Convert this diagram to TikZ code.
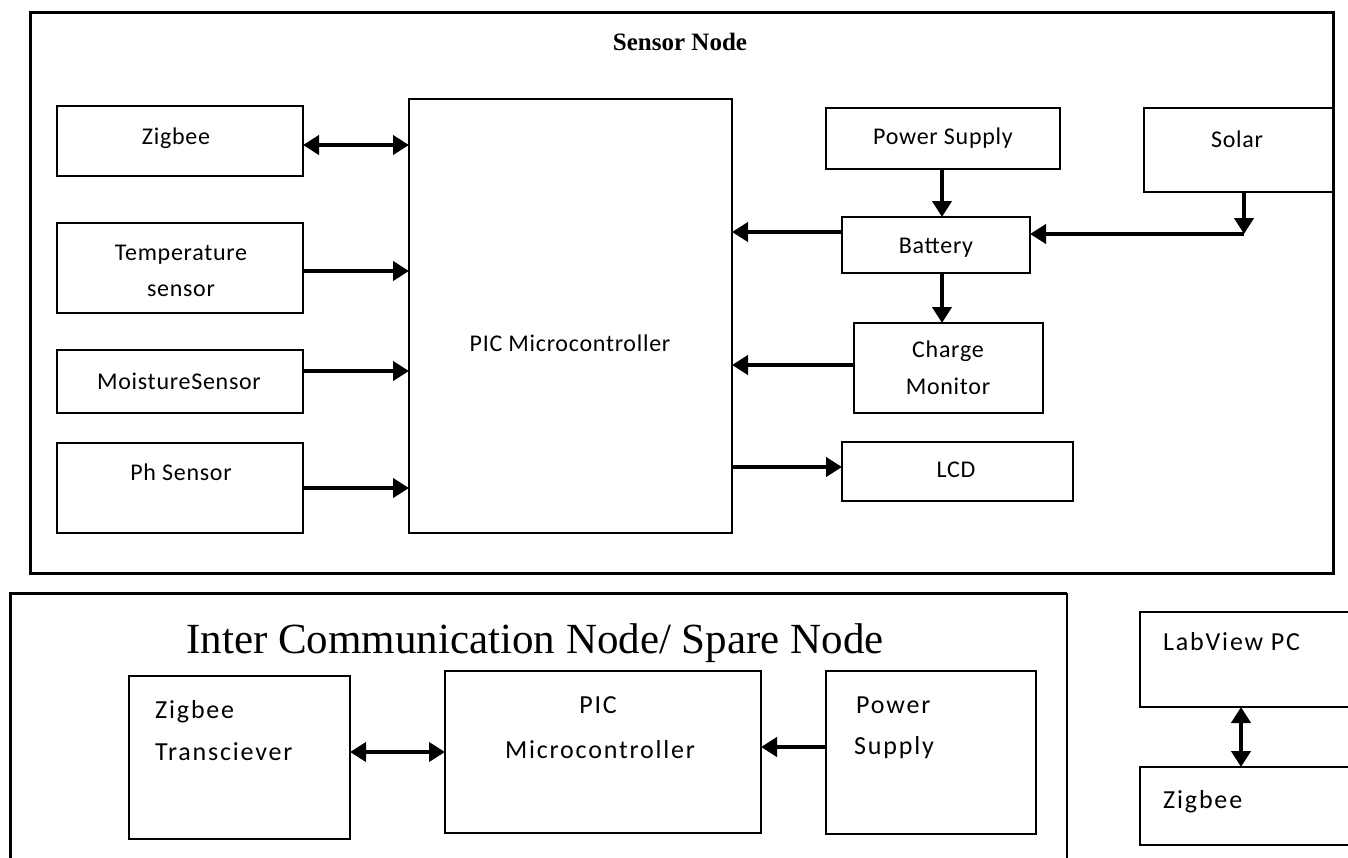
\documentclass[tikz,border=0pt]{standalone}
\usepackage{fontspec}
\newfontfamily\calfont[LetterSpace=3]{Carlito}
\newfontfamily\calwide[LetterSpace=7]{Carlito}
\newfontfamily\serfont{Liberation Serif}
\usetikzlibrary{arrows.meta}
\tikzset{
  box/.style={draw=black, line width=2pt, inner sep=0pt, outer sep=0pt},
  framebox/.style={draw=black, line width=3pt, inner sep=0pt, outer sep=0pt},
  lbl/.style={font=\calfont\fontsize{24}{28}\selectfont, inner sep=0pt, anchor=base},
  lbll/.style={font=\calwide\fontsize{26}{30}\selectfont, inner sep=0pt, anchor=base west},
  lblc/.style={font=\calwide\fontsize{26}{30}\selectfont, inner sep=0pt, anchor=base},
  arr/.style={line width=4pt, -{Triangle[length=16pt,width=19pt]}},
  dbl/.style={line width=4pt, {Triangle[length=16pt,width=19pt]}-{Triangle[length=16pt,width=19pt]}},
}
\begin{document}
\begin{tikzpicture}[x=1pt,y=-1pt]
\useasboundingbox[fill=white] (0,0) rectangle (1348,857);

% ---------------- Sensor Node ----------------
\node[framebox, minimum width=1303pt, minimum height=561pt] (sn) at (681.5,292.5) {};
\node[font=\serfont\bfseries\fontsize{25}{28}\selectfont, inner sep=0pt, anchor=base] (snt) at (680,50) {Sensor Node};

\node[box, minimum width=246pt, minimum height=70pt] (zig) at (180,141) {};
\node[lbl] (zigt) at (176,144) {Zigbee};

\node[box, minimum width=246pt, minimum height=90pt] (temp) at (180,268) {};
\node[lbl] (tempt1) at (181,260) {Temperature};
\node[lbl] (tempt2) at (181,296) {sensor};

\node[box, minimum width=246pt, minimum height=63pt] (moist) at (180,381.5) {};
\node[lbl] (moistt) at (179,389) {MoistureSensor};

\node[box, minimum width=246pt, minimum height=90pt] (ph) at (180,488) {};
\node[lbl] (pht) at (181,480) {Ph Sensor};

\node[box, line width=1.5pt, minimum width=323pt, minimum height=434pt] (pic) at (570.5,316) {};
\node[lbl] (pict) at (570,351) {PIC Microcontroller};

\node[box, minimum width=234pt, minimum height=61pt] (ps) at (943,138.5) {};
\node[lbl] (pst) at (943,144) {Power Supply};

\node[box, minimum width=189pt, minimum height=84pt] (solar) at (1238.5,150) {};
\node[lbl] (solart) at (1237,147) {Solar};

\node[box, minimum width=188pt, minimum height=56pt] (bat) at (936,245) {};
\node[lbl] (batt) at (936,253) {Battery};

\node[box, minimum width=189pt, minimum height=90pt] (cm) at (948.5,368) {};
\node[lbl] (cmt1) at (948,357) {Charge};
\node[lbl] (cmt2) at (948,394) {Monitor};

\node[box, minimum width=231pt, minimum height=59pt] (lcd) at (957.5,471.5) {};
\node[lbl] (lcdt) at (956,477) {LCD};

% connectors
\draw[dbl] ([yshift=-4pt]zig.east) -- ([yshift=-4pt]zig.east -| pic.west);
\draw[arr] ([yshift=-3pt]temp.east) -- ([yshift=-3pt]temp.east -| pic.west);
\draw[arr] ([yshift=10.5pt]moist.east) -- ([yshift=10.5pt]moist.east -| pic.west);
\draw[arr] (ph.east) -- (ph.east -| pic.west);
\draw[arr] ([yshift=13pt]bat.west) -- ([yshift=13pt]bat.west -| pic.east);
\draw[arr] ([yshift=3pt]cm.west) -- ([yshift=3pt]cm.west -| pic.east);
\draw[arr] ([yshift=4.5pt]lcd.west -| pic.east) -- ([yshift=4.5pt]lcd.west);
\draw[arr] ([xshift=-1pt]ps.south) -- ([xshift=-1pt]ps.south |- bat.north);
\draw[arr] ([xshift=6pt]bat.south) -- ([xshift=6pt]bat.south |- cm.north);
\coordinate (sc) at (1244,234);
\draw[arr] (solar.south -| sc) -- (sc);
\draw[arr] (sc) -- (sc -| bat.east);

% ---------------- Inter Communication Node ----------------
\draw[line width=3pt] (10,870) -- (10,593) -- (1067,593);
\draw[line width=2pt] (1067,593) -- (1067,870);
\node[font=\serfont\fontsize{43}{48}\selectfont, inner sep=0pt, anchor=base] (ict) at (535,653) {Inter Communication Node/ Spare Node};

\node[box, minimum width=221pt, minimum height=163pt] (zt) at (239.5,757.5) {};
\node[lbll] (ztt1) at (155,718) {Zigbee};
\node[lbll] (ztt2) at (155,760) {Transciever};

\node[box, minimum width=316pt, minimum height=162pt] (pic2) at (603,752) {};
\node[lblc] (pic2t1) at (598,713) {PIC};
\node[lblc] (pic2t2) at (600,758) {Microcontroller};

\node[box, minimum width=210pt, minimum height=163pt] (ps2) at (931,752.5) {};
\node[lbll] (ps2t1) at (856,713) {Power};
\node[lbll] (ps2t2) at (854,754) {Supply};

\draw[dbl] ([yshift=5.5pt]zt.east) -- ([yshift=5.5pt]zt.east -| pic2.west);
\draw[arr] ([yshift=5.5pt]ps2.west) -- ([yshift=5.5pt]ps2.west -| pic2.east);

% ---------------- LabView PC / Zigbee ----------------
\node[box, minimum width=220pt, minimum height=95pt] (lab) at (1250,659.5) {};
\node[lbll] (labt) at (1163,650) {LabView PC};
\node[box, minimum width=220pt, minimum height=78pt] (zb) at (1250,806) {};
\node[lbll] (zbt) at (1163,808) {Zigbee};
\draw[dbl] ([xshift=-9pt]lab.south) -- ([xshift=-9pt]lab.south |- zb.north);
\end{tikzpicture}
\end{document}
